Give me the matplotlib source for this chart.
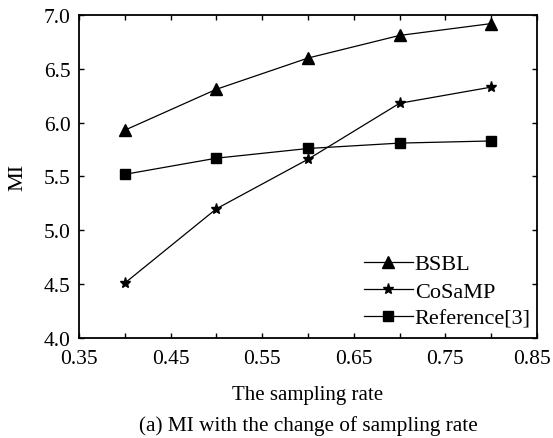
import matplotlib
matplotlib.use("Agg")
import matplotlib.pyplot as plt
from matplotlib.ticker import FixedLocator, MultipleLocator, FuncFormatter
from matplotlib.transforms import ScaledTranslation

plt.rcParams['font.family'] = ['Liberation Serif', 'DejaVu Serif']

rates = [0.40, 0.50, 0.60, 0.70, 0.80]
bsbl = [5.93, 6.31, 6.60, 6.81, 6.92]
cosamp = [4.51, 5.20, 5.66, 6.18, 6.33]
ref3 = [5.52, 5.67, 5.76, 5.81, 5.83]
xticks_major = [0.35, 0.45, 0.55, 0.65, 0.75, 0.85]
xticks_minor = [0.40, 0.50, 0.60, 0.70, 0.80]

fig = plt.figure(figsize=(5.53, 4.39), dpi=100)
ax = fig.add_axes([0.1429, 0.2278, 0.971 - 0.1429, 0.9636 - 0.2278])

ax.plot(rates, bsbl, color='black', lw=0.9, marker='^', ms=8, label='BSBL')
ax.plot(rates, cosamp, color='black', lw=0.9, marker='*', ms=8, label='CoSaMP')
ax.plot(rates, ref3, color='black', lw=0.9, marker='s', ms=6.5, label='Reference[3]')

ax.set_xlim(0.35, 0.85)
ax.set_ylim(4.0, 7.0)
ax.xaxis.set_major_locator(FixedLocator(xticks_major))
ax.xaxis.set_minor_locator(FixedLocator(xticks_minor))
ax.yaxis.set_major_locator(MultipleLocator(0.5))
ax.xaxis.set_major_formatter(FuncFormatter(lambda v, p: f'{v:.2f}'))
ax.yaxis.set_major_formatter(FuncFormatter(lambda v, p: f'{v:.1f}'))
ax.tick_params(which='both', direction='in', top=True, right=True, labelsize=15.5, width=1.0, length=3.5)
ax.tick_params(axis='x', pad=8)
ax.tick_params(axis='y', pad=6)
for s in ax.spines.values():
    s.set_linewidth(1.3)

ax.set_xlabel('The sampling rate', fontsize=15, labelpad=12)
ax.set_ylabel('MI', fontsize=16, labelpad=12)

leg = ax.legend(loc='lower right', frameon=False, fontsize=16, handlelength=2.2,
                handletextpad=0.1, labelspacing=0.3, borderaxespad=0.1,
                bbox_to_anchor=(1.0 + 5 / 458, -2 / 323))

fig.text((0.1429 + 0.971) / 2, 1 - 426 / 439, '(a) MI with the change of sampling rate',
         ha='center', va='center', fontsize=15.3)

fig.canvas.draw()
last = ax.xaxis.get_major_ticks()[-1].label1
last.set_transform(last.get_transform() + ScaledTranslation(-5 / 100, 0, fig.dpi_scale_trans))

fig.savefig('out.png', dpi=100)
